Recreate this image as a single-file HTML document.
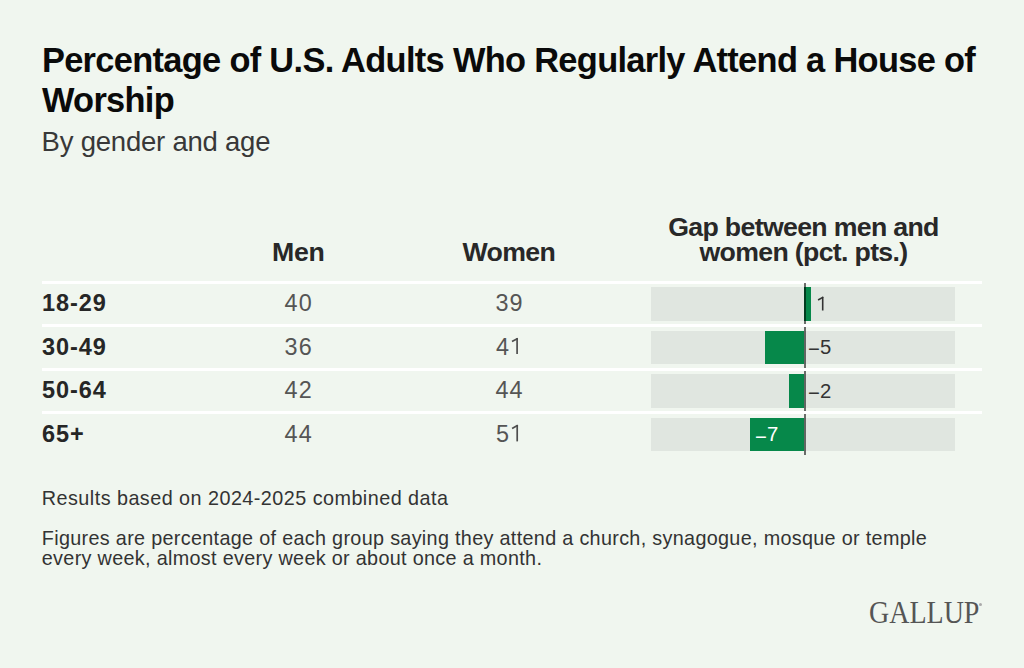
<!DOCTYPE html>
<html>
<head>
<meta charset="utf-8">
<style>
html,body{margin:0;padding:0;}
body{width:1024px;height:668px;background:#F0F6EF;position:relative;overflow:hidden;font-family:"Liberation Sans",sans-serif;}
.a{position:absolute;white-space:nowrap;}
.title{left:41.9px;top:39.8px;font-size:34.4px;letter-spacing:-0.68px;font-weight:bold;color:#0a0a0a;line-height:40.2px;}
.sub{left:41.6px;top:127.1px;font-size:27.5px;letter-spacing:-0.22px;color:#383838;line-height:30px;}
.hd{font-size:26.7px;font-weight:bold;color:#282828;line-height:25.2px;text-align:center;letter-spacing:-0.67px;}
.lbl{left:42px;font-size:23.5px;font-weight:bold;color:#262626;line-height:26px;letter-spacing:0.96px;}
.val{font-size:23.4px;color:#555;line-height:26px;text-align:center;width:100px;letter-spacing:1.2px;}
.wl{position:absolute;left:42px;width:940px;height:3.2px;background:#fff;}
.gb{position:absolute;left:651.3px;width:303.7px;height:33.5px;background:#E0E6E0;}
.gr{position:absolute;height:33.5px;background:#06884A;}
.ax{position:absolute;left:804px;width:2px;background:rgba(0,0,0,0.56);}
.mn{position:relative;top:2.3px;}
.gl{font-size:20.3px;color:#333;line-height:22px;letter-spacing:0.2px;}
.foot{left:41.8px;font-size:19.8px;color:#333;line-height:20.2px;letter-spacing:0.32px;}
.logo{left:868.5px;top:597.6px;font-family:"Liberation Serif",serif;font-size:31px;color:#555;line-height:30px;transform:scaleX(0.903);transform-origin:0 0;}
</style>
</head>
<body>
<div class="a title">Percentage of U.S. Adults Who Regularly Attend a House of<br>Worship</div>
<div class="a sub">By gender and age</div>

<div class="a hd" style="left:248.3px;top:240.3px;width:100px;letter-spacing:-0.2px">Men</div>
<div class="a hd" style="left:408.8px;top:240.3px;width:200px;">Women</div>
<div class="a hd" style="left:653.5px;top:215.1px;width:300px;">Gap between men and<br>women (pct. pts.)</div>

<div class="wl" style="top:280.5px"></div>
<div class="wl" style="top:324.1px"></div>
<div class="wl" style="top:367.7px"></div>
<div class="wl" style="top:411.3px"></div>

<div class="gb" style="top:287.1px"></div>
<div class="gb" style="top:330.7px"></div>
<div class="gb" style="top:374.3px"></div>
<div class="gb" style="top:417.9px"></div>

<div class="gr" style="left:804px;width:6.8px;top:287.1px"></div>
<div class="gr" style="left:765.4px;width:38.6px;top:330.7px"></div>
<div class="gr" style="left:789.1px;width:14.9px;top:374.3px"></div>
<div class="gr" style="left:750.4px;width:53.6px;top:417.9px"></div>

<div class="ax" style="top:283.4px;height:40.6px"></div>
<div class="ax" style="top:327px;height:40.6px"></div>
<div class="ax" style="top:370.6px;height:40.6px"></div>
<div class="ax" style="top:414.2px;height:40.4px"></div>

<div class="a lbl" style="top:290.1px">18-29</div>
<div class="a lbl" style="top:333.7px">30-49</div>
<div class="a lbl" style="top:377.3px">50-64</div>
<div class="a lbl" style="top:420.9px">65+</div>

<div class="a val" style="left:248.8px;top:290px">40</div>
<div class="a val" style="left:248.8px;top:333.6px">36</div>
<div class="a val" style="left:248.8px;top:377.2px">42</div>
<div class="a val" style="left:248.8px;top:420.8px">44</div>

<div class="a val" style="left:459.6px;top:290px">39</div>
<div class="a val" style="left:495.9px;top:333.6px;width:auto;text-align:left;letter-spacing:0">4</div>
<div class="a val" style="left:459.6px;top:377.2px">44</div>
<div class="a val" style="left:496px;top:420.8px;width:auto;text-align:left;letter-spacing:0">5</div>

<div class="a gl" style="left:808px;top:336.17px"><span class="mn">−</span>5</div>
<div class="a gl" style="left:808px;top:379.77px"><span class="mn">−</span>2</div>
<div class="a gl" style="left:755px;top:423.37px;color:#fff"><span class="mn">−</span>7</div>

<svg style="position:absolute;left:0;top:0" width="1024" height="668" viewBox="0 0 1024 668" fill="none" stroke-linecap="butt">
<g stroke="#333" stroke-width="1.6"><path d="M822.7 296.8V310.5"/><path d="M823.2 297.1L818.1 300"/></g>
<g stroke="#4e4e4e" stroke-width="1.7"><path d="M517.1 338.1V353.9"/><path d="M517.7 338.4L512 341.4"/><path d="M517.2 425V441.4"/><path d="M517.8 425.3L512.1 428.6"/></g>
</svg>
<div class="a foot" style="top:487.64px;letter-spacing:0.46px">Results based on 2024-2025 combined data</div>
<div class="a foot" style="top:528.04px">Figures are percentage of each group saying they attend a church, synagogue, mosque or temple<br>every week, almost every week or about once a month.</div>

<div class="a logo">GALLUP</div>
<div style="position:absolute;left:979px;top:603px;width:3px;height:3px;border-radius:50%;background:#aaa"></div>
</body>
</html>
